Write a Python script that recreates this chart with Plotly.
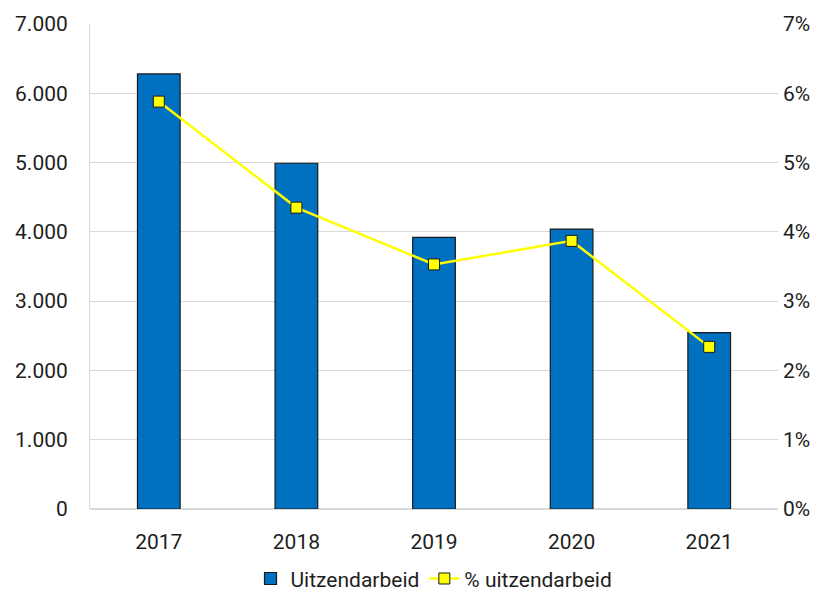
import plotly.graph_objects as go

years = ["2017", "2018", "2019", "2020", "2021"]
uitzendarbeid = [6280, 4990, 3920, 4040, 2545]
pct_uitzendarbeid = [0.0588, 0.0435, 0.0353, 0.0387, 0.0234]

FONT = dict(family="Roboto, Arial, sans-serif", size=21, color="#1e1e1e")

fig = go.Figure()
fig.add_trace(go.Bar(
    x=years, y=uitzendarbeid, name="Uitzendarbeid",
    marker=dict(color="#0070C0", line=dict(color="#1a1a1a", width=1.2)),
    yaxis="y",
))
fig.add_trace(go.Scatter(
    x=years, y=pct_uitzendarbeid, name="% uitzendarbeid",
    mode="lines+markers",
    line=dict(color="#FFFF00", width=2.5),
    marker=dict(symbol="square", size=11, color="#FFFF00",
                line=dict(color="#1a1a1a", width=1)),
    yaxis="y2",
))

# page body has an 8px margin, so the figure is made 8px smaller and shifted
fig.update_layout(
    width=822, height=585,
    margin=dict(l=82, r=52, t=16, b=84, autoexpand=False),
    plot_bgcolor="white", paper_bgcolor="white",
    font=FONT,
    separators=",.",
    bargap=0.69,
    showlegend=True,
    legend=dict(orientation="h", x=0.5, xanchor="center", y=-0.144, yanchor="middle",
                font=FONT, tracegroupgap=0),
    xaxis=dict(showgrid=False, showline=False, ticks="", tickfont=FONT,
               automargin=False, ticklabelstandoff=18),
    yaxis=dict(range=[0, 7000], dtick=1000, tickformat=",d",
               showgrid=True, gridcolor="#d9d9d9", gridwidth=1,
               showline=True, linecolor="#d9d9d9", zeroline=True,
               zerolinecolor="#d9d9d9", ticks="", tickfont=FONT,
               automargin=False, ticklabelstandoff=17),
    yaxis2=dict(range=[0, 0.07], dtick=0.01, tickformat=".0%",
                overlaying="y", side="right", showgrid=False,
                showline=False, zeroline=False, ticks="", tickfont=FONT,
                automargin=False, ticklabelstandoff=4),
)

fig.write_html("out.html")
